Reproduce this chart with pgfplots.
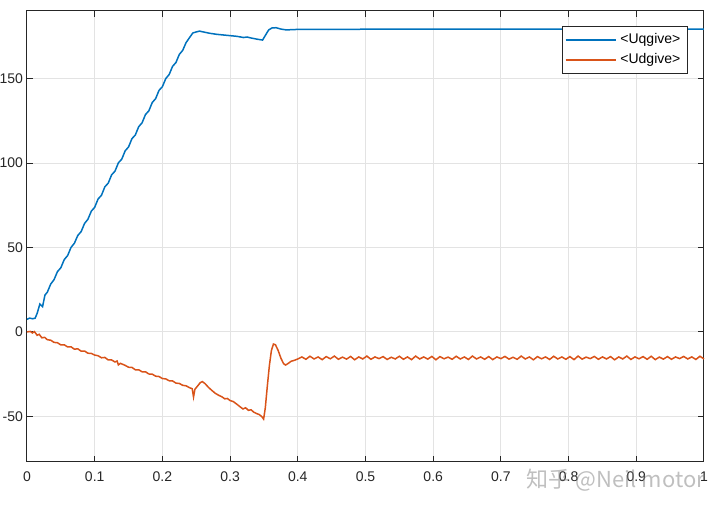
\documentclass[border=0pt]{standalone}
\usepackage{pgfplots}
\pgfplotsset{compat=1.18}
\usepackage{fontspec}
\setmainfont{Liberation Sans}
\newfontfamily\cjk{Noto Sans CJK SC}
\definecolor{mblue}{rgb}{0,0.447,0.741}
\definecolor{morange}{rgb}{0.85,0.325,0.098}
\definecolor{axgray}{HTML}{262626}
\definecolor{gridgray}{HTML}{E3E3E3}
\begin{document}
\begin{tikzpicture}
\path[use as bounding box] (-13.5pt,-23.5pt) rectangle (346.5pt,231pt);
\begin{axis}[
  scale only axis,
  width=338.5pt, height=225.5pt,
  xmin=0, xmax=1, ymin=-77, ymax=190,
  xtick={0,0.1,0.2,0.3,0.4,0.5,0.6,0.7,0.8,0.9,1},
  xticklabels={0,0.1,0.2,0.3,0.4,0.5,0.6,0.7,0.8,0.9,1},
  ytick={-50,0,50,100,150},
  yticklabels={-50,0,50,100,150},
  tick align=inside,
  major tick length=3pt,
  grid=major,
  major grid style={gridgray, line width=0.5pt},
  axis line style={axgray, line width=0.5pt},
  every tick/.style={axgray, line width=0.5pt},
  tick label style={font=\fontsize{7}{8}\selectfont, text=axgray},
  xticklabel style={yshift=-1.5pt},
  yticklabel style={xshift=1.5pt},
  clip=false,
  legend cell align=left,
  legend style={at={(rel axis cs:0.976,0.967)}, anchor=north east,
    draw=axgray, line width=0.4pt, font=\fontsize{7}{8}\selectfont,
    inner sep=1.5pt, row sep=-0.5pt},
  legend image code/.code={\draw[#1] (0pt,0pt) -- (25pt,0pt);},
]
\addplot[mblue, line width=0.75pt] coordinates {
(0,7.5) (0.004,8.2) (0.008,7.8) (0.012,8.1) (0.015,11) (0.019,16.5) (0.023,15) (0.0265,21.8)
(0.030,23.5) (0.035,28.3) (0.040,31.0) (0.045,35.7) (0.050,38.0) (0.055,42.8) (0.060,45.2) (0.065,50.0)
(0.070,52.5) (0.075,57.1) (0.080,59.4) (0.085,64.2) (0.090,66.7) (0.095,71.5) (0.100,73.8)
(0.105,78.7) (0.110,80.9) (0.115,85.9) (0.120,88.1) (0.125,93.0) (0.130,95.2) (0.135,100.1)
(0.140,102.3) (0.145,107.2) (0.150,109.5) (0.155,114.4) (0.160,116.6) (0.165,121.5)
(0.170,123.8) (0.175,128.7) (0.180,130.9) (0.185,135.8) (0.190,138.1) (0.195,143.0)
(0.200,145.2) (0.205,150.0) (0.210,152.4) (0.215,157.2) (0.220,159.5) (0.225,164.3)
(0.230,166.7) (0.235,171.3) (0.240,174.2) (0.245,177) (0.250,177.6) (0.255,178.1) (0.258,177.8)
(0.27,176.8) (0.28,176.2) (0.29,175.8) (0.30,175.4) (0.31,175) (0.32,174.3) (0.325,174.6)
(0.33,174.1) (0.34,173.3) (0.348,172.8) (0.352,175.5) (0.357,178.8) (0.362,180) (0.368,180.1)
(0.375,179.3) (0.383,178.8) (0.40,179.1) (0.5,179.2) (0.6,179.2) (0.7,179.2) (0.8,179.2) (0.9,179.2) (1.0,179.2)
};
\addlegendentry{<Uqgive>}
\addplot[morange, line width=0.75pt] coordinates {
(0,0) (0.005,0.3) (0.008,-0.6) (0.011,0.2) (0.015,-2) (0.018,-1.4) (0.022,-3.5) (0.026,-3.2)
(0.030,-4.6) (0.035,-4.9) (0.040,-6.2) (0.045,-6.4) (0.050,-7.7) (0.055,-7.6) (0.060,-8.9)
(0.065,-8.8) (0.070,-10.2) (0.075,-10.0) (0.080,-11.4) (0.085,-11.3) (0.090,-12.6) (0.095,-12.7)
(0.100,-13.7) (0.105,-14.1) (0.110,-15.3) (0.115,-15.1) (0.120,-16.6) (0.125,-16.6) (0.130,-17.8)
(0.133,-17.2) (0.135,-19.5) (0.138,-18.6) (0.145,-19.8) (0.150,-20.9) (0.155,-21.0) (0.160,-22.4)
(0.165,-22.4) (0.170,-23.6) (0.175,-23.6) (0.180,-24.9) (0.185,-25.0) (0.190,-26.2) (0.195,-26.4)
(0.200,-27.6) (0.205,-27.8) (0.210,-28.9) (0.215,-29.0) (0.220,-30.3) (0.225,-30.5) (0.230,-31.6)
(0.235,-31.9) (0.240,-33.0) (0.244,-33.6) (0.246,-38.5) (0.248,-34) (0.252,-32) (0.256,-30)
(0.259,-29.4) (0.263,-30.6) (0.268,-32.8) (0.273,-34.6) (0.278,-36.3) (0.283,-37.5) (0.288,-38.4)
(0.292,-39.6) (0.296,-39.4) (0.300,-40.6) (0.305,-41.3) (0.310,-42.8) (0.315,-44.4) (0.319,-45.6)
(0.323,-44.9) (0.327,-46.4) (0.331,-46.1) (0.335,-47.5) (0.339,-48.3) (0.343,-48.9) (0.347,-50.2)
(0.3495,-51.6) (0.352,-45) (0.355,-32) (0.358,-20) (0.361,-11) (0.364,-7.2) (0.367,-7.6)
(0.371,-11) (0.375,-15.5) (0.379,-18.8) (0.382,-19.6) (0.386,-18.6) (0.390,-17.4) (0.395,-16.8)
(0.400,-16.0) (0.406,-14.8) (0.412,-16.2) (0.418,-14.4) (0.424,-16.0) (0.430,-14.8) (0.436,-16.4)
(0.442,-14.6) (0.448,-15.9) (0.454,-14.3) (0.460,-16.2) (0.466,-14.9) (0.472,-16.1) (0.478,-14.5)
(0.484,-16.5) (0.490,-14.8) (0.496,-16.0) (0.502,-14.3) (0.508,-16.2) (0.514,-14.8) (0.520,-15.8)
(0.526,-14.6) (0.532,-16.3) (0.538,-15.0) (0.544,-16.0) (0.550,-14.4) (0.556,-16.2) (0.562,-14.8)
(0.568,-16.4) (0.574,-14.3) (0.580,-16.0) (0.586,-14.8) (0.592,-16.1) (0.598,-14.5) (0.604,-16.5)
(0.610,-14.6) (0.616,-15.9) (0.622,-14.9) (0.628,-16.2) (0.634,-14.4) (0.640,-16.0) (0.646,-14.8)
(0.652,-16.3) (0.658,-14.3) (0.664,-16.0) (0.670,-14.8) (0.676,-16.2) (0.682,-14.6) (0.688,-16.4)
(0.694,-14.8) (0.700,-15.8) (0.706,-14.5) (0.712,-16.1) (0.718,-15.0) (0.724,-16.2) (0.730,-14.3)
(0.736,-16.0) (0.742,-14.8) (0.748,-16.5) (0.754,-14.6) (0.760,-15.9) (0.766,-14.8) (0.772,-16.3)
(0.778,-14.4) (0.784,-16.0) (0.790,-14.8) (0.796,-16.2) (0.802,-14.6) (0.808,-16.4) (0.814,-14.3)
(0.820,-16.1) (0.826,-14.9) (0.832,-15.8) (0.838,-14.5) (0.844,-16.2) (0.850,-14.8) (0.856,-16.0)
(0.862,-14.6) (0.868,-16.5) (0.874,-14.8) (0.880,-16.0) (0.886,-14.3) (0.892,-16.3) (0.898,-14.8)
(0.904,-15.9) (0.910,-14.6) (0.916,-16.2) (0.922,-14.4) (0.928,-16.4) (0.934,-14.9) (0.940,-16.1)
(0.946,-14.6) (0.952,-16.2) (0.958,-14.8) (0.964,-15.8) (0.970,-14.5) (0.976,-16.0) (0.982,-14.8)
(0.988,-16.3) (0.994,-14.4) (1.000,-16.0)
};
\addlegendentry{<Udgive>}
\node[text=gray, opacity=0.5, font=\cjk\fontsize{11}{12}\selectfont, anchor=center]
  at (rel axis cs:0.87,-0.04) {知乎 @Neil motor};
\end{axis}
\end{tikzpicture}
\end{document}
